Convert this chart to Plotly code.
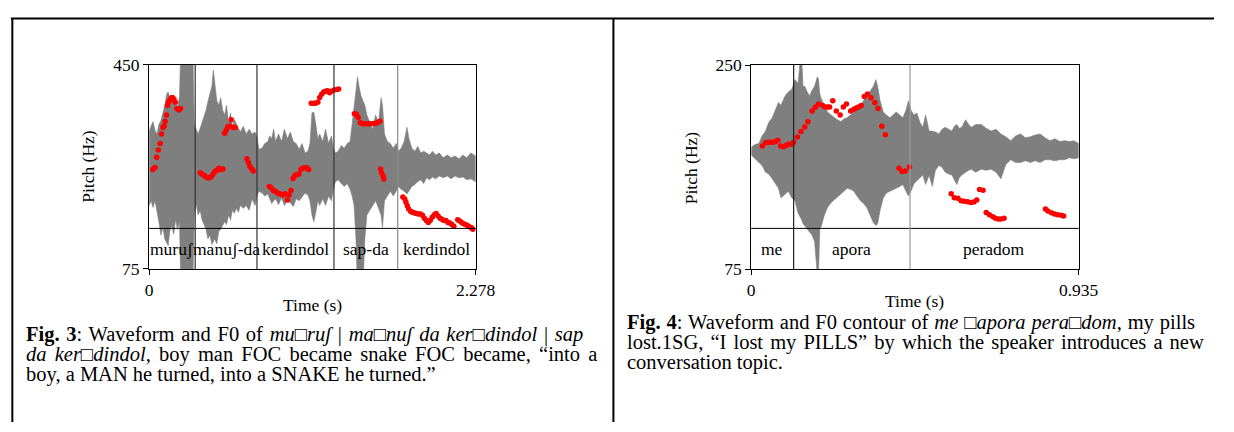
import plotly.graph_objects as go

W, H = 1234, 432
SERIF = "Liberation Serif, Times New Roman, DejaVu Serif, serif"

# ---------------- Fig. 3 data ----------------
f3_duration = 2.278
f3_pitch_range = [75, 450]
f3_amp_range = [-107.5, 106.5]          # waveform amplitude, arbitrary units
f3_wave_time = [0.000, 0.014, 0.027, 0.041, 0.055, 0.068, 0.082, 0.096, 0.109, 0.123, 0.133, 0.144, 0.157,
                0.171, 0.185, 0.198, 0.212, 0.222, 0.226, 0.260, 0.301, 0.304, 0.315, 0.328, 0.342, 0.356,
                0.369, 0.383, 0.397, 0.410, 0.424, 0.438, 0.448, 0.458, 0.472, 0.486, 0.499, 0.513, 0.527,
                0.540, 0.554, 0.568, 0.581, 0.595, 0.609, 0.623, 0.636, 0.657, 0.677, 0.698, 0.718, 0.739,
                0.753, 0.766, 0.787, 0.807, 0.828, 0.841, 0.855, 0.869, 0.882, 0.903, 0.924, 0.944, 0.965,
                0.985, 1.006, 1.026, 1.047, 1.067, 1.088, 1.108, 1.122, 1.136, 1.149, 1.163, 1.177, 1.190,
                1.211, 1.231, 1.252, 1.272, 1.286, 1.300, 1.320, 1.341, 1.361, 1.382, 1.402, 1.416, 1.430,
                1.443, 1.454, 1.464, 1.478, 1.491, 1.505, 1.519, 1.539, 1.560, 1.580, 1.601, 1.618, 1.628,
                1.642, 1.662, 1.683, 1.703, 1.724, 1.738, 1.758, 1.779, 1.799, 1.813, 1.833, 1.854, 1.874,
                1.895, 1.915, 1.936, 1.957, 1.977, 1.998, 2.025, 2.052, 2.080, 2.107, 2.134, 2.162, 2.189,
                2.216, 2.244, 2.278]
f3_wave_top = [37, 42, 47, 38, 34, 44, 48, 56, 64, 76, 78, 72, 74,
               66, 69, 61, 74, 130, 130, 130, 130, 130, 44, 38, 34, 40,
               46, 54, 59, 68, 76, 84, 101, 84, 69, 64, 72, 59, 54,
               64, 46, 56, 42, 49, 44, 40, 36, 42, 34, 39, 34, 36,
               31, 18, 19, 24, 26, 32, 29, 39, 26, 34, 26, 39, 29,
               36, 26, 24, 18, 24, 14, 16, 24, 56, 57, 44, 29, 34,
               26, 39, 24, 32, 19, 14, 16, 22, 19, 24, 26, 44, 64,
               79, 94, 84, 74, 69, 64, 54, 46, 39, 54, 46, 72, 64,
               34, 26, 24, 19, 24, 16, 19, 26, 41, 29, 19, 16, 21,
               14, 16, 14, 12, 16, 12, 14, 9, 12, 9, 11, 8, 12,
               9, 14, 11]
f3_wave_bottom = [-41, -36, -43, -36, -49, -58, -72, -64, -76, -80, -83, -68, -62,
                  -71, -56, -66, -58, -130, -130, -130, -130, -130, -51, -39, -51, -46,
                  -56, -61, -66, -76, -72, -82, -80, -76, -81, -68, -66, -62, -58,
                  -61, -51, -56, -46, -49, -44, -48, -41, -44, -41, -46, -34, -41,
                  -31, -26, -28, -31, -29, -34, -39, -36, -34, -40, -33, -41, -36,
                  -38, -42, -34, -36, -32, -28, -30, -36, -51, -58, -48, -36, -41,
                  -34, -41, -31, -36, -24, -16, -14, -18, -21, -18, -24, -31, -41,
                  -76, -130, -130, -130, -130, -76, -51, -46, -41, -36, -44, -51, -64,
                  -36, -31, -26, -31, -26, -21, -24, -26, -29, -26, -21, -19, -16,
                  -14, -18, -12, -14, -11, -13, -10, -12, -10, -13, -10, -12, -11,
                  -14, -13, -16]
f3_f0_time = [0.025, 0.041, 0.053, 0.064, 0.077, 0.087, 0.096, 0.105, 0.112, 0.121, 0.128, 0.135, 0.144,
              0.153, 0.162, 0.173, 0.183, 0.194, 0.207, 0.219,
              0.356, 0.367, 0.383, 0.397, 0.413, 0.429, 0.443, 0.456, 0.470, 0.486, 0.499, 0.515,
              0.527, 0.538, 0.547, 0.561, 0.573, 0.584, 0.600,
              0.682, 0.693, 0.703, 0.716, 0.727,
              0.839, 0.853, 0.867, 0.880, 0.894, 0.908, 0.922, 0.935, 0.949, 0.965, 0.976, 0.990, 1.004,
              1.017, 1.031, 1.045, 1.058, 1.072, 1.086, 1.099, 1.113,
              1.131, 1.147, 1.161, 1.177, 1.190, 1.204, 1.218, 1.231, 1.245, 1.259, 1.272, 1.291, 1.309, 1.322,
              1.432, 1.446, 1.459, 1.473, 1.491, 1.510, 1.528, 1.546, 1.565, 1.582, 1.599, 1.610,
              1.615, 1.621, 1.633, 1.637,
              1.770, 1.784, 1.792, 1.801, 1.811, 1.825, 1.838, 1.852, 1.866, 1.879, 1.893, 1.907, 1.920,
              1.934, 1.948, 1.961, 1.975, 1.989, 2.002, 2.016, 2.030, 2.043, 2.057, 2.071, 2.085, 2.098,
              2.112, 2.126, 2.153, 2.167, 2.180, 2.194, 2.208, 2.221, 2.235, 2.249, 2.258]
f3_f0_hz = [257.6, 261.6, 280.4, 293.7, 305.4, 322.9, 334.7, 337.5, 346.3, 358.0, 375.5, 381.3, 384.3,
            389.0, 390.1, 387.3, 381.3, 369.7, 366.8, 369.7,
            251.6, 249.4, 247.1, 244.1, 242.3, 243.6, 248.1, 252.9, 255.8, 259.9, 257.6, 258.6,
            324.2, 330.0, 335.7, 337.5, 349.2, 334.7, 334.7,
            277.4, 270.4, 263.4, 258.6, 255.1,
            226.6, 223.6, 219.0, 217.8, 214.8, 213.1, 212.0, 210.8, 213.1, 201.5, 210.8, 219.0, 241.1,
            247.1, 248.1, 249.4, 257.6, 259.9, 261.1, 261.1, 257.6,
            379.5, 379.5, 379.5, 381.3, 390.1, 396.0, 400.1, 401.3, 402.3, 398.8, 401.3, 403.6, 404.8, 405.8,
            360.3, 359.2, 353.3, 343.5, 341.7, 341.7, 341.7, 341.7, 342.2, 342.8, 344.5, 346.3,
            258.6, 251.6, 245.8, 240.1,
            207.3, 203.3, 197.3, 191.0, 185.0, 180.5, 179.3, 178.0, 177.0, 175.8, 175.8, 173.5, 168.2,
            164.0, 160.5, 164.0, 170.0, 174.5, 177.0, 172.3, 168.2, 166.5, 164.0, 164.0, 160.5, 159.5,
            156.5, 153.5, 165.2, 163.0, 160.5, 158.2, 156.5, 154.7, 152.5, 150.7, 147.7]
f3_boundaries = [0.3215, 0.7525, 1.2895, 1.7342]
f3_labels = ["muruʃ", "manuʃ-da", "kerdindol", "sap-da", "kerdindol"]
f3_xtick_text = ["0", "2.278"]
f3_ytick_text = ["75", "450"]

# ---------------- Fig. 4 data ----------------
f4_duration = 0.935
f4_pitch_range = [75, 250]
f4_amp_range = [-123.7, 90.3]
f4_wave_time = [0.000, 0.003, 0.011, 0.022, 0.031, 0.041, 0.050, 0.060, 0.070, 0.078, 0.085, 0.097, 0.106,
                0.116, 0.125, 0.134, 0.141, 0.144, 0.148, 0.153, 0.160, 0.167, 0.174, 0.181, 0.189, 0.192,
                0.196, 0.200, 0.209, 0.218, 0.228, 0.237, 0.246, 0.256, 0.265, 0.274, 0.284, 0.293, 0.302,
                0.312, 0.321, 0.330, 0.340, 0.349, 0.356, 0.361, 0.368, 0.377, 0.386, 0.396, 0.405, 0.414,
                0.424, 0.433, 0.442, 0.449, 0.456, 0.465, 0.473, 0.482, 0.490, 0.498, 0.508, 0.517, 0.526,
                0.536, 0.545, 0.554, 0.564, 0.573, 0.580, 0.587, 0.594, 0.601, 0.612, 0.621, 0.629, 0.641,
                0.657, 0.671, 0.685, 0.699, 0.713, 0.727, 0.741, 0.755, 0.769, 0.783, 0.797, 0.811, 0.825,
                0.839, 0.853, 0.867, 0.881, 0.895, 0.909, 0.921, 0.935]
f4_wave_top = [3, 5, 7, 8, 16, 21, 30, 35, 44, 51, 48, 58, 62,
               65, 75, 71, 100, 100, 68, 68, 62, 58, 64, 68, 78, 76,
               60, 55, 48, 41, 38, 35, 33, 31, 34, 35, 38, 41, 45,
               48, 53, 58, 63, 68, 75, 68, 53, 41, 38, 35, 38, 41,
               38, 35, 43, 53, 43, 38, 40, 30, 25, 38, 21, 21, 20,
               18, 23, 25, 23, 21, 26, 28, 24, 25, 33, 28, 25, 28,
               28, 24, 21, 23, 18, 15, 11, 16, 18, 14, 15, 17, 18,
               14, 11, 13, 10, 11, 10, 11, 8]
f4_wave_bottom = [-3, -5, -8, -12, -15, -22, -24, -29, -34, -39, -49, -45, -42,
                  -49, -52, -65, -70, -72, -76, -79, -82, -85, -88, -95, -130, -130,
                  -82, -79, -67, -59, -54, -52, -48, -45, -42, -39, -40, -42, -47,
                  -52, -55, -59, -67, -75, -78, -76, -62, -49, -44, -42, -40, -39,
                  -37, -35, -42, -47, -42, -34, -32, -28, -25, -35, -25, -37, -20,
                  -15, -17, -22, -24, -25, -30, -35, -28, -25, -22, -20, -19, -22,
                  -19, -20, -19, -22, -29, -14, -9, -12, -12, -10, -12, -10, -12,
                  -9, -9, -10, -9, -9, -7, -8, -7]
f4_f0_time = [0.032, 0.041, 0.048, 0.056, 0.064, 0.071, 0.076, 0.084, 0.092, 0.099, 0.106, 0.114, 0.121,
              0.132, 0.142, 0.153, 0.162, 0.174, 0.183, 0.192, 0.204, 0.211, 0.218, 0.224, 0.233, 0.243,
              0.254, 0.263, 0.272, 0.284, 0.293, 0.300, 0.306, 0.314, 0.323, 0.332, 0.342, 0.353, 0.362,
              0.373, 0.383, 0.422, 0.431, 0.440, 0.452, 0.571, 0.580, 0.590, 0.599, 0.608, 0.618, 0.627,
              0.636, 0.644, 0.652, 0.662, 0.671, 0.680, 0.690, 0.697, 0.705, 0.713, 0.722, 0.840, 0.847,
              0.857, 0.866, 0.875, 0.885, 0.892]
f4_f0_hz = [180.5, 183.3, 183.8, 183.8, 183.8, 184.6, 185.4, 180.5, 180.0, 181.1, 182.1, 182.1, 183.8,
            188.2, 193.1, 196.9, 201.3, 210.5, 213.8, 216.5, 215.4, 214.0, 214.0, 214.0, 219.3, 210.5,
            207.2, 214.0, 216.5, 210.5, 212.1, 213.2, 214.0, 215.4, 223.0, 225.2, 222.0, 217.6, 212.7,
            197.4, 190.3, 161.4, 158.7, 159.2, 162.5, 139.6, 136.3, 135.8, 133.6, 133.1, 132.8, 132.2,
            132.6, 134.2, 143.3, 142.6, 123.6, 121.6, 120.0, 118.7, 117.9, 117.9, 118.7, 126.5, 124.9,
            123.3, 122.2, 121.6, 121.1, 120.6]
f4_boundaries = [0.1212, 0.4535]
f4_labels = ["me", "apora", "peradom"]
f4_xtick_text = ["0", "0.935"]
f4_ytick_text = ["75", "250"]

# captions: each line is a list of words, each word a list of (text, style) segments
cap3_lines = [
    [[("Fig.", "b")], [("3", "b"), (":", "")], [("Waveform", "")], [("and", "")], [("F0", "")], [("of", "")],
     [("mu□ruʃ", "i")], [("|", "")], [("ma□nuʃ", "i")], [("da", "i")], [("ker□dindol", "i")], [("|", "")],
     [("sap", "i")]],
    [[("da", "i")], [("ker□dindol,", "i")], [("boy", "")], [("man", "")], [("FOC", "")], [("became", "")],
     [("snake", "")], [("FOC", "")], [("became,", "")], [("“into", "")], [("a", "")]],
    [[("boy,", "")], [("a", "")], [("MAN", "")], [("he", "")], [("turned,", "")], [("into", "")], [("a", "")],
     [("SNAKE", "")], [("he", "")], [("turned.”", "")]],
]
cap4_lines = [
    [[("Fig.", "b")], [("4", "b"), (":", "")], [("Waveform", "")], [("and", "")], [("F0", "")],
     [("contour", "")], [("of", "")], [("me", "i")], [("□apora", "i")], [("pera□dom", "i"), (",", "")],
     [("my", "")], [("pills", "")]],
    [[("lost.1SG,", "")], [("“I", "")], [("lost", "")], [("my", "")], [("PILLS”", "")], [("by", "")],
     [("which", "")], [("the", "")], [("speaker", "")], [("introduces", "")], [("a", "")], [("new", "")]],
    [[("conversation", "")], [("topic.", "")]],
]

# ---------------- helpers (layout only) ----------------
REG = {' ': 250, ',': 250, '-': 333, '.': 250, ':': 278, '|': 200, '“': 444, '”': 444, '□': 760, 'ʃ': 420,
       'A': 722, 'B': 667, 'C': 667, 'D': 722, 'E': 611, 'F': 556, 'G': 722, 'H': 722, 'I': 333, 'J': 389,
       'K': 722, 'L': 611, 'M': 889, 'N': 722, 'O': 722, 'P': 556, 'Q': 722, 'R': 667, 'S': 556, 'T': 611,
       'U': 722, 'V': 722, 'W': 944, 'X': 722, 'Y': 722, 'Z': 611,
       'a': 444, 'b': 500, 'c': 444, 'd': 500, 'e': 444, 'f': 333, 'g': 500, 'h': 500, 'i': 278, 'j': 278,
       'k': 500, 'l': 278, 'm': 778, 'n': 500, 'o': 500, 'p': 500, 'q': 500, 'r': 333, 's': 389, 't': 278,
       'u': 500, 'v': 500, 'w': 722, 'x': 500, 'y': 500, 'z': 444}
ITA = {'a': 500, 'k': 444, 'm': 722, 'r': 389, 'f': 278, 'v': 444, 'w': 667, 'y': 444, 'z': 389}
BLD = {'F': 611}

CAP_SIZE = 20.5
AX_SIZE = 17.5
WIDTH_FUDGE = 1.022


def seg_width(text, style, size):
    w = 0
    for ch in text:
        if style == 'i' and ch in ITA:
            w += ITA[ch]
        elif style == 'b' and ch in BLD:
            w += BLD[ch]
        else:
            w += REG.get(ch, 500)
    return WIDTH_FUDGE * w * size / 1000.0


def seg_html(text, style):
    if style == 'b':
        return "<b>" + text + "</b>"
    if style == 'i':
        return "<i>" + text + "</i>"
    return text


fig = go.Figure()
annotations = []
shapes = []


def add_caption(lines, left, right, ycenters):
    space = WIDTH_FUDGE * 0.25 * CAP_SIZE
    for li, (words, yc) in enumerate(zip(lines, ycenters)):
        widths = [sum(seg_width(t, s, CAP_SIZE) for t, s in w) for w in words]
        body = " ".join("".join(seg_html(t, s) for t, s in w) for w in words)
        justify = li < len(lines) - 1 and len(words) > 1
        if justify:
            natural = sum(widths) + space * (len(words) - 1)
            extra = max(0.0, (right - left - natural) / (len(words) - 1))
            body = '<span style="word-spacing:%.2fpx">%s</span>' % (extra, body)
        annotations.append(dict(text=body, x=left / W, xref="paper", xanchor="left",
                                y=1 - yc / H, yref="paper", yanchor="middle", showarrow=False, align="left",
                                font=dict(family=SERIF, size=CAP_SIZE, color="black"), borderpad=0))


panels = [
    dict(xa="x", ya="y", yp="y3", px=(148, 481), py=(57.5, 271.5), dur=f3_duration, prange=f3_pitch_range,
         arange=f3_amp_range, wt=f3_wave_time, wtop=f3_wave_top, wbot=f3_wave_bottom, ft=f3_f0_time,
         fhz=f3_f0_hz, bounds=f3_boundaries, labels=f3_labels, xtt=f3_xtick_text, ytt=f3_ytick_text,
         bcolors=["#333333", "#333333", "#333333", "#8a8a8a"], tier_y=229, label_y=250.8,
         pitch_title=(86, 164), time_title=(314.5, 309)),
    dict(xa="x2", ya="y2", yp="y4", px=(762, 1096), py=(57.7, 271.7), dur=f4_duration, prange=f4_pitch_range,
         arange=f4_amp_range, wt=f4_wave_time, wtop=f4_wave_top, wbot=f4_wave_bottom, ft=f4_f0_time,
         fhz=f4_f0_hz, bounds=f4_boundaries, labels=f4_labels, xtt=f4_xtick_text, ytt=f4_ytick_text,
         bcolors=["#222222", "#9a9a9a"], tier_y=229, label_y=250.8,
         pitch_title=(700.5, 165), time_title=(929, 305.5)),
]

layout_axes = {}
for i, p in enumerate(panels):
    xname = "xaxis" if p["xa"] == "x" else "xaxis" + p["xa"][1:]
    yname = "yaxis" if p["ya"] == "y" else "yaxis" + p["ya"][1:]
    ypname = "yaxis" + p["yp"][1:]
    xdom = [p["px"][0] / W, p["px"][1] / W]
    ydom = [1 - p["py"][1] / H, 1 - p["py"][0] / H]
    tickfont = dict(family=SERIF, size=AX_SIZE, color="black")
    layout_axes[xname] = dict(domain=xdom, range=[0, p["dur"]], anchor=p["ya"], showline=True, mirror=True,
                              linecolor="black", linewidth=1, ticks="outside", ticklen=5, tickwidth=1,
                              tickcolor="black", tickvals=[0, p["dur"]], ticktext=p["xtt"], tickfont=tickfont,
                              showgrid=False, zeroline=False, fixedrange=True)
    layout_axes[yname] = dict(domain=ydom, range=p["arange"], anchor=p["xa"], showline=True, mirror=True,
                              linecolor="black", linewidth=1, showticklabels=False, ticks="",
                              showgrid=False, zeroline=False, fixedrange=True)
    layout_axes[ypname] = dict(overlaying=p["ya"], anchor=p["xa"], side="left", range=p["prange"],
                               tickvals=p["prange"], ticktext=p["ytt"], ticks="outside", ticklen=5,
                               tickwidth=1, tickcolor="black", tickfont=tickfont, showline=False,
                               showgrid=False, zeroline=False, fixedrange=True)

    # waveform envelope
    fig.add_trace(go.Scatter(x=p["wt"] + p["wt"][::-1], y=p["wtop"] + p["wbot"][::-1], mode="lines",
                             fill="toself", fillcolor="#7f7f7f", line=dict(color="#7f7f7f", width=0.6),
                             xaxis=p["xa"], yaxis=p["ya"], hoverinfo="skip"))
    # F0 points
    fig.add_trace(go.Scatter(x=p["ft"], y=p["fhz"], mode="markers",
                             marker=dict(color="#ff0000", size=5.5, line=dict(width=0)),
                             xaxis=p["xa"], yaxis=p["yp"], hoverinfo="skip"))

    ph = p["py"][1] - p["py"][0]
    tier_frac = (p["py"][1] - p["tier_y"]) / ph
    shapes.append(dict(type="line", xref=p["xa"] + " domain", yref=p["ya"] + " domain", x0=0, x1=1,
                       y0=tier_frac, y1=tier_frac, line=dict(color="black", width=1), layer="above"))
    for b, c in zip(p["bounds"], p["bcolors"]):
        shapes.append(dict(type="line", xref=p["xa"], yref=p["ya"] + " domain", x0=b, x1=b, y0=0, y1=1,
                           line=dict(color=c, width=1.2), layer="above"))
    edges = [0] + p["bounds"] + [p["dur"]]
    lab_frac = (p["py"][1] - p["label_y"]) / ph
    for k, lab in enumerate(p["labels"]):
        annotations.append(dict(text=lab, x=(edges[k] + edges[k + 1]) / 2, xref=p["xa"], xanchor="center",
                                y=lab_frac, yref=p["ya"] + " domain", yanchor="middle", showarrow=False,
                                font=dict(family=SERIF, size=AX_SIZE, color="black"), borderpad=0))
    annotations.append(dict(text="Pitch (Hz)", textangle=-90, x=p["pitch_title"][0] / W, xref="paper",
                            xanchor="center", y=1 - p["pitch_title"][1] / H, yref="paper", yanchor="middle",
                            showarrow=False, font=dict(family=SERIF, size=AX_SIZE, color="black")))
    annotations.append(dict(text="Time (s)", x=p["time_title"][0] / W, xref="paper", xanchor="center",
                            y=1 - p["time_title"][1] / H, yref="paper", yanchor="middle",
                            showarrow=False, font=dict(family=SERIF, size=AX_SIZE, color="black")))

# outer frame
shapes.append(dict(type="line", xref="paper", yref="paper", x0=7 / W, x1=1, y0=1 - 9 / H, y1=1 - 9 / H,
                   line=dict(color="black", width=2)))
shapes.append(dict(type="line", xref="paper", yref="paper", x0=8.5 / W, x1=8.5 / W, y0=0, y1=1 - 9 / H,
                   line=dict(color="black", width=2)))
shapes.append(dict(type="line", xref="paper", yref="paper", x0=621.5 / W, x1=621.5 / W, y0=0, y1=1 - 9 / H,
                   line=dict(color="black", width=2)))

add_caption(cap3_lines, 21.5, 608, [340, 361, 382])
add_caption(cap4_lines, 634, 1223, [328, 349, 369.5])

fig.update_layout(width=W, height=H, margin=dict(l=0, r=0, t=0, b=0), paper_bgcolor="white",
                  plot_bgcolor="white", showlegend=False, hovermode=False,
                  annotations=annotations, shapes=shapes, **layout_axes)

fig.write_html("out.html", config={"displayModeBar": False, "responsive": False})

# remove the default page margin so the figure sits at the window origin
with open("out.html", "r", encoding="utf-8") as fh:
    page = fh.read()
page = page.replace("<head>", "<head><style>html,body{margin:0;padding:0;overflow:hidden;}</style>", 1)
with open("out.html", "w", encoding="utf-8") as fh:
    fh.write(page)
